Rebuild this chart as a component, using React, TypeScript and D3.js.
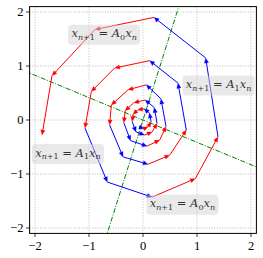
import React from "react";
import * as d3 from "d3";

// trajectory vertices (inner start -> outer end)
const trajX = [
  -0.07, 0.02, 0.095, 0.15, 0.12, 0.02, -0.1, -0.185, -0.2,
  -0.13, 0.03, 0.17, 0.26, 0.21, 0.04, -0.17, -0.33, -0.355,
  -0.231, 0.074, 0.309, 0.426, 0.333, 0.061, -0.278, -0.587, -0.617,
  -0.37, 0.093, 0.494, 0.802, 0.648, 0.124, -0.524, -0.957, -1.074,
  -0.661, 0.167, 0.969, 1.389, 1.161, 0.204, -0.889, -1.685, -1.87,
];
const trajY = [
  -0.13, -0.16, -0.125, -0.035, 0.13, 0.21, 0.185, 0.1, -0.03,
  -0.22, -0.28, -0.22, -0.06, 0.23, 0.37, 0.32, 0.17, -0.05,
  -0.382, -0.484, -0.372, -0.121, 0.391, 0.652, 0.559, 0.279, -0.093,
  -0.683, -0.819, -0.652, -0.186, 0.683, 1.099, 0.963, 0.527, -0.149,
  -1.149, -1.428, -1.086, -0.311, 1.149, 1.9, 1.676, 0.82, -0.28,
];
// switching lines through the origin (slopes)
const switchSlopes = [-0.414, 3.17];
const xTicks = [-2, -1, 0, 1, 2];
const yTicks = [-2, -1, 0, 1, 2];
const labelX = [-0.72, 1.4, -1.39, 0.73];
const labelY = [1.58, 0.64, -0.63, -1.57];
const labelMatrix = ["0", "1", "1", "0"];

const W = 263;
const H = 258;
const L = 29.6, R = 256.4, T = 6.6, B = 233.4;

export default function App() {
  const x = d3.scaleLinear().domain([-2.1, 2.1]).range([L, R]);
  const y = d3.scaleLinear().domain([-2.1, 2.1]).range([B, T]);
  const segs = [] as any[];
  for (let i = 0; i < trajX.length - 1; i++) {
    const x0 = trajX[i], y0 = trajY[i];
    const s1 = y0 - switchSlopes[0] * x0;
    const s2 = y0 - switchSlopes[1] * x0;
    const col = s1 * s2 > 0 ? "#ff0000" : "#0000ff";
    const px0 = x(x0), py0 = y(y0), px1 = x(trajX[i + 1]), py1 = y(trajY[i + 1]);
    const ang = Math.atan2(py1 - py0, px1 - px0);
    const len = 5, hw = 2.1;
    const bx = px1 - len * Math.cos(ang), by = py1 - len * Math.sin(ang);
    const nx = -Math.sin(ang) * hw, ny = Math.cos(ang) * hw;
    segs.push(
      <g key={i}>
        <line x1={px0} y1={py0} x2={bx + 0.5 * Math.cos(ang)} y2={by + 0.5 * Math.sin(ang)} stroke={col} strokeWidth={1} />
        <path d={`M${px1},${py1}L${bx + nx},${by + ny}L${bx - nx},${by - ny}Z`} fill={col} stroke={col} strokeWidth={0.3} />
      </g>
    );
  }
  const font = "'Liberation Serif', 'DejaVu Serif', serif";
  return (
    <svg width={W} height={H} style={{ position: "absolute", left: 0, top: 0 }}>
      <defs>
        <clipPath id="pa">
          <rect x={L} y={T} width={R - L} height={B - T} />
        </clipPath>
      </defs>
      <rect width={W} height={H} fill="#fff" />
      {xTicks.map((t) => (
        <line key={"gx" + t} x1={x(t)} x2={x(t)} y1={T} y2={B} stroke="#b0b0b0" strokeWidth={0.8} strokeDasharray="1,1.6" />
      ))}
      {yTicks.map((t) => (
        <line key={"gy" + t} y1={y(t)} y2={y(t)} x1={L} x2={R} stroke="#b0b0b0" strokeWidth={0.8} strokeDasharray="1,1.6" />
      ))}
      <g clipPath="url(#pa)">
        {switchSlopes.map((m, i) => (
          <line key={"s" + i} x1={x(-2.2 / Math.max(1, Math.abs(m)))} y1={y(-2.2 / Math.max(1, Math.abs(m)) * m)}
            x2={x(2.2 / Math.max(1, Math.abs(m)))} y2={y(2.2 / Math.max(1, Math.abs(m)) * m)}
            stroke="#008000" strokeWidth={1} strokeDasharray="5,1.5,1,1.5" />
        ))}
        {segs}
      </g>
      {labelX.map((lx, i) => {
        const cx = x(lx), cy = y(labelY[i]);
        return (
          <g key={"l" + i}>
            <rect x={cx - 36} y={cy - 10} width={72} height={20} rx={3.5} fill="#d3d3d3" fillOpacity={0.5} />
            <text x={cx} y={cy + 2.5} textAnchor="middle" fontFamily="'DejaVu Serif', serif" fontSize={11.5} fill="#333">
              <tspan fontStyle="italic">x</tspan>
              <tspan fontSize={8} dy={2.8}><tspan fontStyle="italic">n</tspan>+1</tspan>
              <tspan dy={-2.8}>{" = "}</tspan>
              <tspan fontStyle="italic">A</tspan>
              <tspan fontSize={8} dy={2.8}>{labelMatrix[i]}</tspan>
              <tspan fontStyle="italic" dy={-2.8}>x</tspan>
              <tspan fontSize={8} fontStyle="italic" dy={2.8}>n</tspan>
            </text>
          </g>
        );
      })}
      <rect x={L} y={T} width={R - L} height={B - T} fill="none" stroke="#000" strokeWidth={1} />
      {xTicks.map((t) => (
        <g key={"tx" + t}>
          <line x1={x(t)} x2={x(t)} y1={B} y2={B + 3.5} stroke="#000" strokeWidth={0.8} />
          <text x={x(t)} y={249.5} textAnchor="middle" fontFamily={font} fontSize={12.5} fill="#000">
            {t < 0 ? "\u2212" + Math.abs(t) : String(t)}
          </text>
        </g>
      ))}
      {yTicks.map((t) => (
        <g key={"ty" + t}>
          <line x1={L - 3.5} x2={L} y1={y(t)} y2={y(t)} stroke="#000" strokeWidth={0.8} />
          <text x={23.5} y={y(t) + 4.2} textAnchor="end" fontFamily={font} fontSize={12.5} fill="#000">
            {t < 0 ? "\u2212" + Math.abs(t) : String(t)}
          </text>
        </g>
      ))}
    </svg>
  );
}
